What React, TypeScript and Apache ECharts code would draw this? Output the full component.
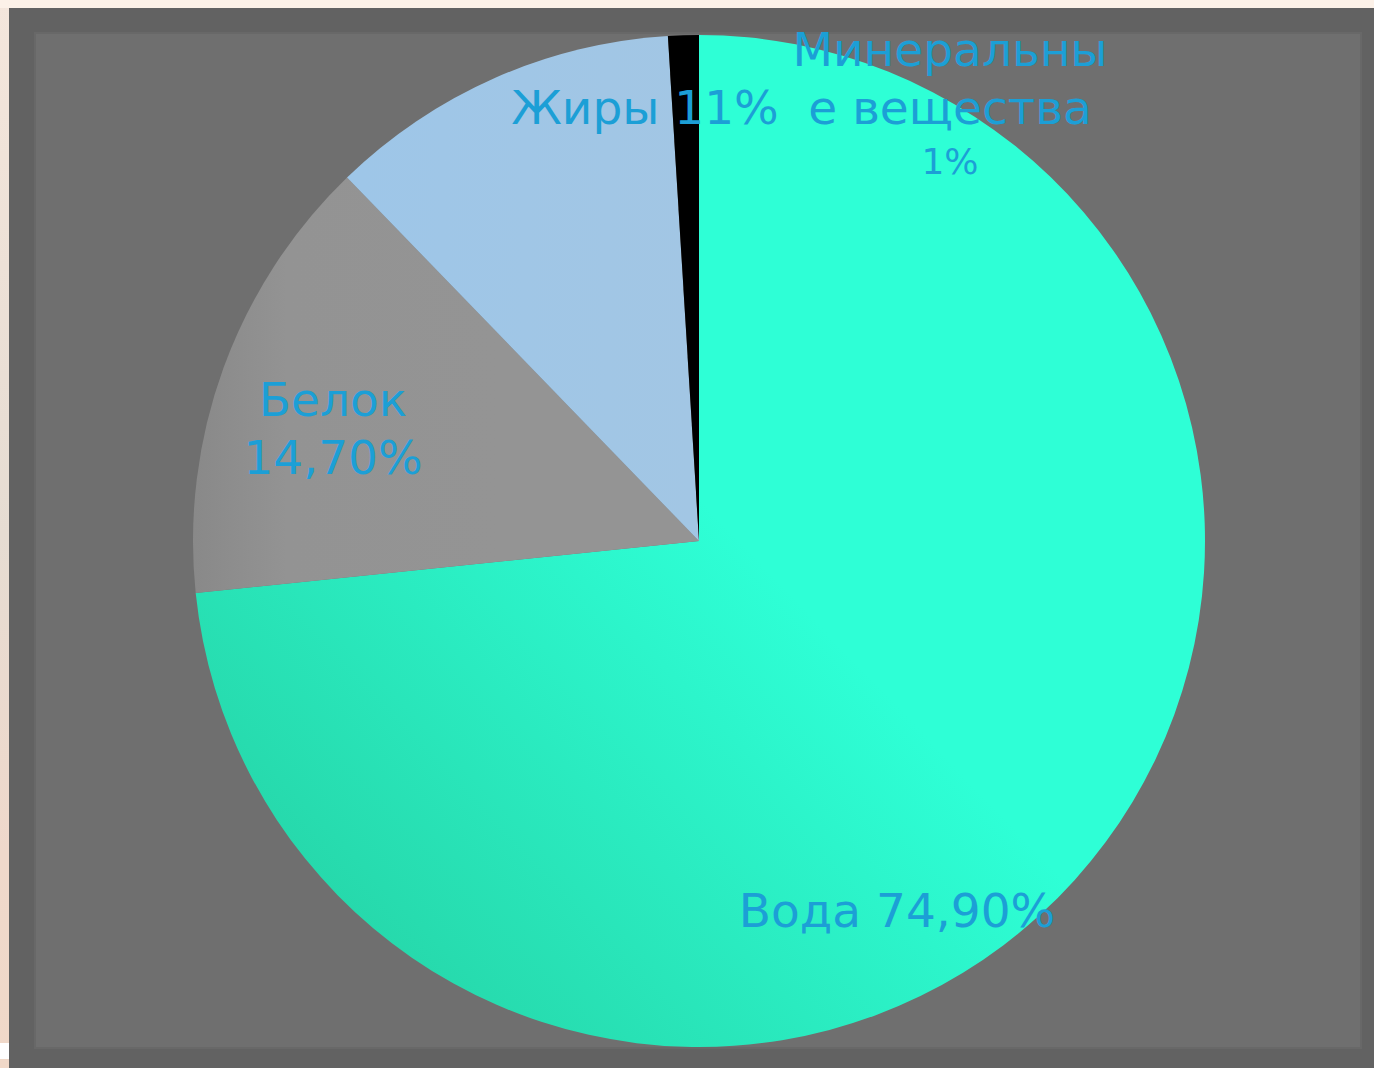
import React, { useEffect, useRef } from "react";
import * as echarts from "echarts";

const categories = ["Вода", "Белок", "Жиры", "Минеральные вещества"];
const values = [74.9, 14.7, 11.5, 1];
const percentLabels = ["74,90%", "14,70%", "11%", "1%"];

const W = 1374;
const H = 1068;
const labelPos: [number, number][] = [
  [897, 910],
  [333, 428],
  [645, 107],
  [950, 103],
];

export default function App() {
  const ref = useRef<HTMLDivElement>(null);
  useEffect(() => {
    if (!ref.current) return;
    const chart = echarts.init(ref.current, undefined, { renderer: "svg" });
    const labelColor = "#1c9fd6";
    const font = "'DejaVu Sans', Verdana, sans-serif";
    const waterGrad = {
      type: "linear",
      x: 260,
      y: 960,
      x2: 720,
      y2: 520,
      global: true,
      colorStops: [
        { offset: 0, color: "#25d2a4" },
        { offset: 1, color: "#2effd6" },
      ],
    };
    const proteinGrad = {
      type: "linear",
      x: 195,
      y: 450,
      x2: 500,
      y2: 450,
      global: true,
      colorStops: [
        { offset: 0, color: "#898989" },
        { offset: 0.3, color: "#939393" },
        { offset: 1, color: "#949494" },
      ],
    };
    const fatGrad = {
      type: "linear",
      x: 360,
      y: 150,
      x2: 690,
      y2: 150,
      global: true,
      colorStops: [
        { offset: 0, color: "#9ec6e8" },
        { offset: 1, color: "#a2c6e4" },
      ],
    };
    const sliceColors: any[] = [waterGrad, proteinGrad, fatGrad, "#000000"];

    const formatLabel = (i: number) => {
      if (i === 0) return `{a|${categories[0]} ${percentLabels[0]}}`;
      if (i === 1) return `{a|${categories[1]}}\n{a|${percentLabels[1]}}`;
      if (i === 2) return `{a|${categories[2]} ${percentLabels[2]}}`;
      const words = categories[3].split(" ");
      const w1 = words[0];
      return `{a|${w1.slice(0, w1.length - 1)}}\n{a|${w1.slice(
        w1.length - 1
      )} ${words[1]}}\n{b|${percentLabels[3]}}`;
    };

    chart.setOption({
      animation: false,
      backgroundColor: "#f7ebe1",
      graphic: [
        {
          type: "rect",
          z: 0,
          shape: { x: 0, y: 0, width: 9, height: H },
          style: {
            fill: {
              type: "linear",
              x: 0,
              y: 0,
              x2: 0,
              y2: 1,
              colorStops: [
                { offset: 0, color: "#f4e6dc" },
                { offset: 0.5, color: "#e6dcd2" },
                { offset: 0.8, color: "#efd8cb" },
                { offset: 1, color: "#f0d8c8" },
              ],
            },
          },
        },
        {
          type: "rect",
          z: 0,
          shape: { x: 0, y: 0, width: W, height: 8 },
          style: { fill: "#fcf1e8" },
        },
        {
          type: "rect",
          z: 0,
          shape: { x: 0, y: 1043, width: 9, height: 16 },
          style: { fill: "#ffffff" },
        },
        {
          type: "rect",
          z: 0,
          shape: { x: 9, y: 8, width: W - 9, height: H - 8 },
          style: { fill: "#626262" },
        },
        {
          type: "rect",
          z: 0,
          shape: { x: 34, y: 32, width: 1328, height: 1017 },
          style: { fill: "#686868" },
        },
        {
          type: "rect",
          z: 0,
          shape: { x: 36, y: 34, width: 1324, height: 1013 },
          style: { fill: "#6f6f6f" },
        },
      ],
      series: [
        {
          type: "pie",
          z: 2,
          center: [699, 541],
          radius: 506,
          startAngle: 90,
          clockwise: true,
          avoidLabelOverlap: false,
          silent: true,
          itemStyle: { borderWidth: 0 },
          labelLine: { show: false },
          label: {
            show: true,
            position: "inside",
            formatter: (p: any) => formatLabel(p.dataIndex),
            color: labelColor,
            fontFamily: font,
            rich: {
              a: {
                fontSize: 47,
                lineHeight: 58,
                color: labelColor,
                fontFamily: font,
                align: "center",
              },
              b: {
                fontSize: 36,
                lineHeight: 50,
                color: labelColor,
                fontFamily: font,
                align: "center",
              },
            },
          },
          labelLayout: (params: any) => {
            const p = labelPos[params.dataIndex];
            return {
              x: p[0],
              y: p[1],
              align: "center",
              verticalAlign: "middle",
            };
          },
          data: categories.map((name, i) => ({
            name,
            value: values[i],
            itemStyle: { color: sliceColors[i] },
          })),
        },
      ],
    });
    return () => chart.dispose();
  }, []);
  return (
    <div
      ref={ref}
      style={{ position: "fixed", left: 0, top: 0, width: W, height: H }}
    />
  );
}
